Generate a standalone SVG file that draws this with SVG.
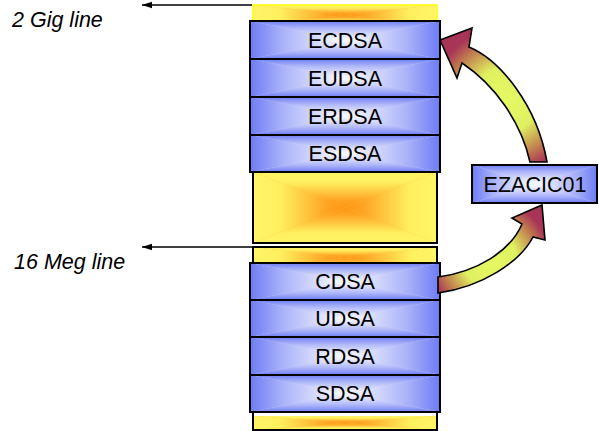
<svg xmlns="http://www.w3.org/2000/svg" xmlns:xlink="http://www.w3.org/1999/xlink" width="599" height="431" viewBox="0 0 599 431">
<style>
.lbl{font-family:"Liberation Sans",Arial,sans-serif;font-size:21.5px;fill:#000;text-anchor:middle}
.side{font-family:"Liberation Sans",Arial,sans-serif;font-size:21.5px;font-style:italic;fill:#000}
.bord{fill:none;stroke:#000;stroke-width:2}
.ybord{fill:none;stroke:#ffff00;stroke-width:1.5}
.arr{stroke:#000;stroke-width:1.6;stroke-linejoin:miter}
.ln{stroke:#000;stroke-width:1.5;fill:none}
</style>
<defs>
<linearGradient id="bT" x1="0" y1="0" x2="0" y2="1"><stop offset="0" stop-color="#6d7cf4"/><stop offset="0.35" stop-color="#aab3f9"/><stop offset="1" stop-color="#ffffff"/></linearGradient>
<linearGradient id="bB" x1="0" y1="1" x2="0" y2="0"><stop offset="0" stop-color="#6d7cf4"/><stop offset="0.35" stop-color="#aab3f9"/><stop offset="1" stop-color="#ffffff"/></linearGradient>
<linearGradient id="bL" x1="0" y1="0" x2="1" y2="0"><stop offset="0" stop-color="#6d7cf4"/><stop offset="0.35" stop-color="#aab3f9"/><stop offset="1" stop-color="#ffffff"/></linearGradient>
<linearGradient id="bR" x1="1" y1="0" x2="0" y2="0"><stop offset="0" stop-color="#6d7cf4"/><stop offset="0.35" stop-color="#aab3f9"/><stop offset="1" stop-color="#ffffff"/></linearGradient>
<linearGradient id="yT" x1="0" y1="0" x2="0" y2="1"><stop offset="0" stop-color="#fff566"/><stop offset="0.3" stop-color="#ffef5e"/><stop offset="0.8" stop-color="#ffa424"/><stop offset="1" stop-color="#ff9612"/></linearGradient>
<linearGradient id="yB" x1="0" y1="1" x2="0" y2="0"><stop offset="0" stop-color="#fff566"/><stop offset="0.3" stop-color="#ffef5e"/><stop offset="0.8" stop-color="#ffa424"/><stop offset="1" stop-color="#ff9612"/></linearGradient>
<linearGradient id="yL" x1="0" y1="0" x2="1" y2="0"><stop offset="0" stop-color="#fff566"/><stop offset="0.3" stop-color="#ffef5e"/><stop offset="0.8" stop-color="#ffa424"/><stop offset="1" stop-color="#ff9612"/></linearGradient>
<linearGradient id="yR" x1="1" y1="0" x2="0" y2="0"><stop offset="0" stop-color="#fff566"/><stop offset="0.3" stop-color="#ffef5e"/><stop offset="0.8" stop-color="#ffa424"/><stop offset="1" stop-color="#ff9612"/></linearGradient>
<symbol id="pyrB" viewBox="0 0 100 100" preserveAspectRatio="none">
<rect x="0" y="0" width="100" height="100" fill="#c8cdfb"/>
<polygon points="0,0 100,0 50,50" fill="url(#bT)"/>
<polygon points="0,100 100,100 50,50" fill="url(#bB)"/>
<polygon points="0,0 0,100 50,50" fill="url(#bL)"/>
<polygon points="100,0 100,100 50,50" fill="url(#bR)"/>
</symbol>
<symbol id="pyrY" viewBox="0 0 100 100" preserveAspectRatio="none">
<rect x="0" y="0" width="100" height="100" fill="#ffc840"/>
<polygon points="0,0 100,0 50,50" fill="url(#yT)"/>
<polygon points="0,100 100,100 50,50" fill="url(#yB)"/>
<polygon points="0,0 0,100 50,50" fill="url(#yL)"/>
<polygon points="100,0 100,100 50,50" fill="url(#yR)"/>
</symbol>
<radialGradient id="aU" gradientUnits="userSpaceOnUse" cx="505" cy="100" r="72"><stop offset="0" stop-color="#e6fa64"/><stop offset="0.45" stop-color="#dff060"/><stop offset="0.8" stop-color="#c07a4e"/><stop offset="1" stop-color="#a83558"/></radialGradient>
<radialGradient id="aL" gradientUnits="userSpaceOnUse" cx="490" cy="260" r="60"><stop offset="0" stop-color="#e6fa64"/><stop offset="0.45" stop-color="#dff060"/><stop offset="0.8" stop-color="#c07a4e"/><stop offset="1" stop-color="#a83558"/></radialGradient>
<marker id="ah" markerWidth="10" markerHeight="8" refX="10" refY="4" orient="auto" markerUnits="userSpaceOnUse"><path d="M0,0.8 L10,4 L0,7.2 Z" fill="#000"/></marker>
</defs>

<g id="yellow-top"><use xlink:href="#pyrY" x="253" y="5" width="184" height="20"/><rect class="ybord" x="253" y="5" width="184" height="20"/></g>
<g id="yellow-mid"><use xlink:href="#pyrY" x="253" y="172" width="184" height="71"/><rect class="bord" x="253" y="172" width="184" height="71"/></g>
<g id="yellow-16"><use xlink:href="#pyrY" x="253" y="247" width="184" height="22"/><rect class="bord" x="253" y="247" width="184" height="22"/></g>
<g id="yellow-bot"><use xlink:href="#pyrY" x="253" y="416" width="184" height="14"/><rect class="bord" x="253" y="412" width="184" height="18"/></g>

<g id="ECDSA"><use xlink:href="#pyrB" x="250" y="21" width="190" height="38"/><rect class="bord" x="250" y="21" width="190" height="38"/><text class="lbl" x="345" y="48">ECDSA</text></g>
<g id="EUDSA"><use xlink:href="#pyrB" x="250" y="59" width="190" height="38"/><rect class="bord" x="250" y="59" width="190" height="38"/><text class="lbl" x="345" y="86">EUDSA</text></g>
<g id="ERDSA"><use xlink:href="#pyrB" x="250" y="97" width="190" height="38"/><rect class="bord" x="250" y="97" width="190" height="38"/><text class="lbl" x="345" y="124">ERDSA</text></g>
<g id="ESDSA"><use xlink:href="#pyrB" x="250" y="135" width="190" height="37"/><rect class="bord" x="250" y="135" width="190" height="37"/><text class="lbl" x="345" y="161">ESDSA</text></g>
<g id="CDSA"><use xlink:href="#pyrB" x="250" y="263" width="190" height="37"/><rect class="bord" x="250" y="263" width="190" height="37"/><text class="lbl" x="345" y="289">CDSA</text></g>
<g id="UDSA"><use xlink:href="#pyrB" x="250" y="300" width="190" height="37"/><rect class="bord" x="250" y="300" width="190" height="37"/><text class="lbl" x="345" y="326">UDSA</text></g>
<g id="RDSA"><use xlink:href="#pyrB" x="250" y="337" width="190" height="38"/><rect class="bord" x="250" y="337" width="190" height="38"/><text class="lbl" x="345" y="364">RDSA</text></g>
<g id="SDSA"><use xlink:href="#pyrB" x="250" y="375" width="190" height="37"/><rect class="bord" x="250" y="375" width="190" height="37"/><text class="lbl" x="345" y="401">SDSA</text></g>
<g id="EZACIC01"><use xlink:href="#pyrB" x="472" y="165" width="125" height="38"/><rect class="bord" x="472" y="165" width="125" height="38"/><text class="lbl" x="535" y="192">EZACIC01</text></g>

<g id="label-2gig"><text class="side" x="12" y="27">2 Gig line</text></g>
<g id="label-16meg"><text class="side" x="14" y="269">16 Meg line</text></g>

<g id="connectors">
<line class="ln" x1="252" y1="5" x2="142" y2="5" marker-end="url(#ah)"/>
<line class="ln" x1="253" y1="247" x2="142" y2="247" marker-end="url(#ah)"/>
<path class="arr" fill="url(#aU)" d="M440,40 L472,28 L469,47 C500,60 537,105 547,162 L530,162 C521,122 495,85 462,63 L457,78 Z"/>
<path class="arr" fill="url(#aL)" d="M542,205 L545,240 L533,237 C520,262 482,287 438,293 L438,277 C476,272 510,252 522,224 L512,218 Z"/>
</g>
</svg>
